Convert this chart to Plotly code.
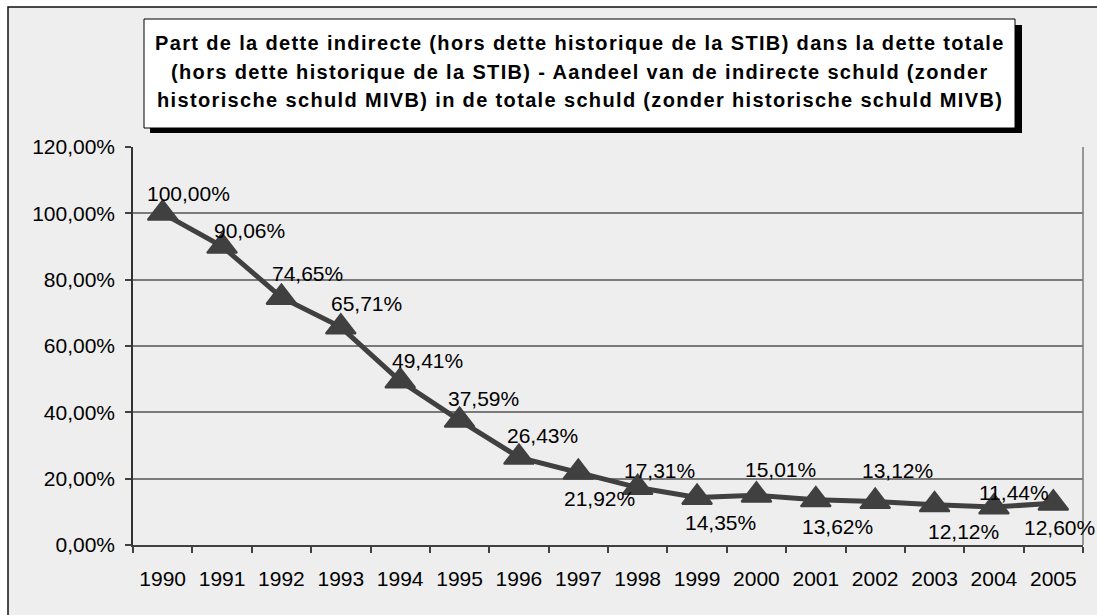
import plotly.graph_objects as go

# ---- data ----
years = ["1990", "1991", "1992", "1993", "1994", "1995", "1996", "1997",
         "1998", "1999", "2000", "2001", "2002", "2003", "2004", "2005"]
share_pct = [100.00, 90.06, 74.65, 65.71, 49.41, 37.59, 26.43, 21.92,
             17.31, 14.35, 15.01, 13.62, 13.12, 12.12, 11.44, 12.60]
y_tick_vals = [0, 20, 40, 60, 80, 100, 120]
y_tick_text = ["0,00%", "20,00%", "40,00%", "60,00%", "80,00%", "100,00%", "120,00%"]
title_lines = [
    "Part de la dette indirecte (hors dette historique de la STIB) dans la dette totale",
    "(hors dette historique de la STIB) - Aandeel van de indirecte schuld (zonder",
    "historische schuld MIVB) in de totale schuld (zonder historische schuld MIVB)",
]
# label placement relative to each point (screen px: right, down)
label_offsets = [(26, -20), (27, -16), (26, -24), (26, -24), (27, -21), (24, -22),
                 (24, -22), (21, 26), (22, -17), (23, 25), (24, -26), (22, 27),
                 (22, -31), (29, 27), (20, -15), (6, 24)]

W, H = 1097, 615
L, R, T, B = 133, 1083, 147, 545
FONT = "Liberation Sans, Arial, sans-serif"


def px(xp):
    return (xp - L) / (R - L)


def py(yp):
    return (B - yp) / (B - T)


fig = go.Figure()
fig.add_trace(go.Scatter(
    x=years, y=share_pct, mode="lines+markers",
    line=dict(color="#404040", width=5),
    marker=dict(symbol="triangle-up", size=26, color="#404040",
                line=dict(width=2, color="#404040")),
    cliponaxis=False, showlegend=False, hoverinfo="skip",
))

annotations = []
for i, (v, (dx, dy)) in enumerate(zip(share_pct, label_offsets)):
    annotations.append(dict(
        x=i, y=v, xref="x", yref="y", showarrow=False,
        text=f"{v:.2f}".replace(".", ",") + "%",
        font=dict(family=FONT, size=21, color="black"),
        xanchor="center", yanchor="middle", xshift=dx, yshift=-dy,
    ))

title_y = [43, 72, 100]
for line, ty in zip(title_lines, title_y):
    annotations.append(dict(
        x=px(579.5), y=py(ty), xref="paper", yref="paper", showarrow=False,
        text=f'<span style="letter-spacing:1.35px">{line}</span>',
        font=dict(family=FONT, size=20, color="black", weight="bold"),
        xanchor="center", yanchor="middle",
    ))

shapes = [
    # grey chart area with outer border
    dict(type="rect", xref="paper", yref="paper", layer="below",
         x0=px(8), x1=px(1200), y0=py(7), y1=py(700),
         fillcolor="#eeeeee", line=dict(color="#111111", width=1.5)),
    # right border of plot area
    dict(type="line", xref="paper", yref="paper", layer="below",
         x0=1, x1=1, y0=0, y1=1, line=dict(color="#7a7a7a", width=1.5)),
    # title shadow
    dict(type="rect", xref="paper", yref="paper", layer="above",
         x0=px(150), x1=px(1022), y0=py(25), y1=py(133),
         fillcolor="black", line=dict(width=0)),
    # title box
    dict(type="rect", xref="paper", yref="paper", layer="above",
         x0=px(144), x1=px(1015), y0=py(19), y1=py(128),
         fillcolor="white", line=dict(color="black", width=1)),
]

fig.update_layout(
    width=W, height=H,
    margin=dict(l=L, r=W - R, t=T, b=H - B, pad=0),
    paper_bgcolor="white", plot_bgcolor="rgba(0,0,0,0)",
    font=dict(family=FONT, size=21, color="black"),
    showlegend=False,
    annotations=annotations, shapes=shapes,
)
fig.update_xaxes(
    type="category", range=[-0.5, 15.5], tickson="boundaries",
    ticks="outside", ticklen=6, tickwidth=1.5, tickcolor="#404040",
    showline=True, linecolor="#404040", linewidth=2,
    showgrid=False, tickfont=dict(size=21, family=FONT, color="black"),
    ticklabelstandoff=14,
)
fig.update_yaxes(
    range=[0, 120], tickvals=y_tick_vals, ticktext=y_tick_text,
    ticks="outside", ticklen=6, tickwidth=1.5, tickcolor="#404040",
    showline=True, linecolor="#333333", linewidth=1.5,
    showgrid=True, gridcolor="#7a7a7a", gridwidth=1.5, zeroline=False,
    tickfont=dict(size=21, family=FONT, color="black"),
    ticklabelstandoff=6,
)

fig.write_html("out.html", config={"displayModeBar": False},
               post_script="document.body.style.margin='0';document.body.style.overflow='hidden';")
